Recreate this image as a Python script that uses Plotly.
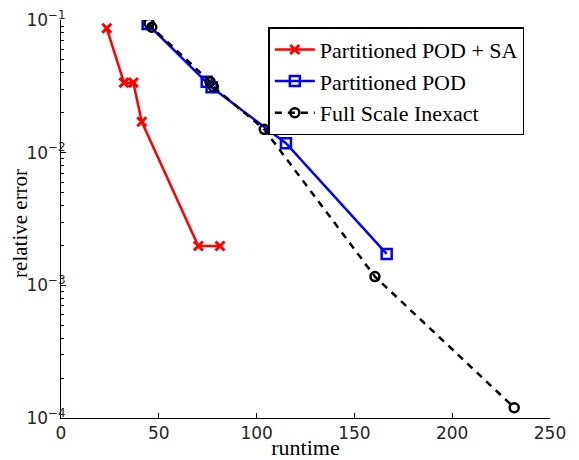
import plotly.graph_objects as go

# Data
sa_runtime = [23.4, 32.2, 37.0, 41.3, 70.2, 81.3]
sa_error = [0.0866, 0.0337, 0.0337, 0.0171, 0.00198, 0.00198]

pod_runtime = [44.3, 74.5, 77.0, 115.0, 166.5]
pod_error = [0.0933, 0.0343, 0.0311, 0.01177, 0.001726]

full_runtime = [45.0, 46.4, 76.2, 77.9, 103.9, 160.5, 231.7]
full_error = [0.0944, 0.0881, 0.0343, 0.0314, 0.0150, 0.001164, 0.0001197]

names = ["Partitioned POD + SA", "Partitioned POD", "Full Scale Inexact"]

x_ticks = [0, 50, 100, 150, 200, 250]
y_tickvals = [1e-4, 1e-3, 1e-2, 1e-1]
y_ticktext = ["10<sup>−4</sup>", "10<sup>−3</sup>", "10<sup>−2</sup>", "10<sup>−1</sup>"]

serif = "Liberation Serif"
sans = "DejaVu Sans"

fig = go.Figure()
fig.add_trace(go.Scatter(
    x=sa_runtime, y=sa_error, name=names[0], mode="lines+markers",
    line=dict(color="#ff0000", width=2.5),
    marker=dict(symbol="x-thin-open", size=9, line=dict(color="#ff0000", width=3))))
fig.add_trace(go.Scatter(
    x=pod_runtime, y=pod_error, name=names[1], mode="lines+markers",
    line=dict(color="#0000ff", width=2.5),
    marker=dict(symbol="square-open", size=10, color="#0000ff", line=dict(color="#0000ff", width=2.5))))
fig.add_trace(go.Scatter(
    x=full_runtime, y=full_error, name=names[2], mode="lines+markers",
    line=dict(color="#000000", width=2.5, dash="7px,6px"),
    marker=dict(symbol="circle-open", size=9, color="#000000", line=dict(color="#000000", width=2.5))))

# page body has an 8px default margin, so the figure is 8px smaller
fig.update_layout(
    width=571, height=452,
    margin=dict(l=53, r=29, t=12, b=42),
    paper_bgcolor="white", plot_bgcolor="white",
    font=dict(family=serif, size=20, color="black"),
    showlegend=True,
    legend=dict(
        x=0.424, y=0.982, xanchor="left", yanchor="top",
        bordercolor="black", borderwidth=1.5, bgcolor="white",
        font=dict(family=serif, size=22, color="black"),
        itemwidth=40,
    ),
    xaxis=dict(
        range=[0, 250], tickvals=x_ticks, ticks="inside", ticklen=5,
        tickcolor="black", showline=True, linecolor="black", linewidth=1,
        showgrid=False, zeroline=False, automargin=False,
        tickfont=dict(family=sans, size=17, color="#262626"),
        title=dict(text="runtime", font=dict(family=serif, size=22, color="black"), standoff=2),
    ),
    yaxis=dict(
        type="log", range=[-4, -1], tickvals=y_tickvals, ticktext=y_ticktext,
        ticks="inside", ticklen=5, tickcolor="black",
        showline=True, linecolor="black", linewidth=1,
        showgrid=False, zeroline=False, automargin=False,
        ticklabelstandoff=-9, ticklabeloverflow="allow",
        tickfont=dict(family=sans, size=17, color="#262626"),
        minor=dict(ticks="inside", ticklen=3, tickcolor="black", dtick="D1", showgrid=False),
    ),
    annotations=[dict(
        text="relative error", textangle=-90, showarrow=False,
        xref="paper", yref="paper", x=-0.084, y=0.49,
        xanchor="center", yanchor="middle",
        font=dict(family=serif, size=21, color="black"),
    )],
)

fig.write_html("out.html")
